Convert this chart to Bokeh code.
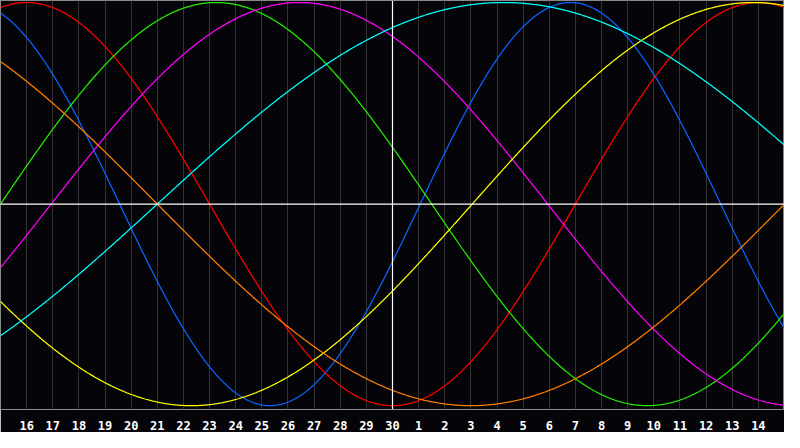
import numpy as np
from bokeh.plotting import figure
from bokeh.models import Range1d, FixedTicker, Span
from bokeh.embed import file_html
from bokeh.resources import INLINE

# Day labels shown under the chart (positions 1..29 of a 30-day window)
day_labels = ["16", "17", "18", "19", "20", "21", "22", "23", "24", "25", "26",
              "27", "28", "29", "30", "1", "2", "3", "4", "5", "6", "7", "8",
              "9", "10", "11", "12", "13", "14"]

# Biorhythm cycles: period (days) and the day index where each cycle rises through zero
cycle_names = ["physical", "emotional", "intellectual", "intuitive",
               "aesthetic", "awareness", "spiritual"]
cycle_periods = [23, 28, 33, 38, 43, 48, 53]
cycle_zero_day = [16.06, 22.0, 0.0, 1.94, 18.05, 30.0, 6.0]
cycle_colors = ["#0a64ff", "#ff0000", "#22ee00", "#ff00ff",
                "#ffff00", "#ff8000", "#00ffff"]

BG = "#050408"

p = figure(width=784, height=432, output_backend="svg", toolbar_location=None,
           x_range=Range1d(0, 30), y_range=Range1d(-1.019, 1.01),
           background_fill_color=BG, border_fill_color=BG,
           min_border=0, min_border_left=0, min_border_right=0,
           min_border_top=0, min_border_bottom=0)

p.outline_line_color = "#8a8a8a"
p.outline_line_width = 1

ticks = list(range(1, len(day_labels) + 1))
p.xaxis.ticker = FixedTicker(ticks=ticks)
p.xaxis.major_label_overrides = {t: lab for t, lab in zip(ticks, day_labels)}
p.xaxis.axis_line_color = None
p.xaxis.major_tick_line_color = None
p.xaxis.minor_tick_line_color = None
p.xaxis.major_label_text_color = "white"
p.xaxis.major_label_text_font = "DejaVu Sans Mono"
p.xaxis.major_label_text_font_style = "bold"
p.xaxis.major_label_text_font_size = "12px"
p.xaxis.major_label_standoff = 5
p.yaxis.visible = False

p.xgrid.ticker = FixedTicker(ticks=ticks)
p.xgrid.grid_line_color = "#333333"
p.xgrid.grid_line_width = 1
p.ygrid.grid_line_color = None

t = np.linspace(0, 30, 901)
for name, per, z, col in zip(cycle_names, cycle_periods, cycle_zero_day, cycle_colors):
    v = np.sin(2 * np.pi * (t - z) / per)
    p.line(t, v, line_color=col, line_width=1.25)

p.add_layout(Span(location=0, dimension="width", line_color="white", line_width=1.2))
p.add_layout(Span(location=15, dimension="height", line_color="white", line_width=1.2))

open("out.html", "w").write(file_html(p, INLINE))
